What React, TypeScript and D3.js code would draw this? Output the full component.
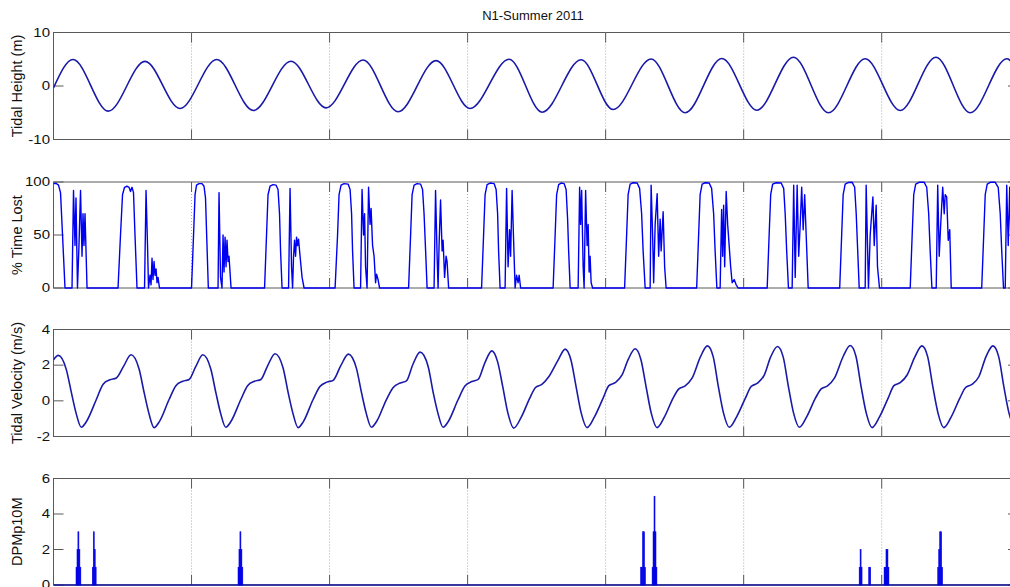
import React from "react";
import * as d3 from "d3";

const TITLE = "N1-Summer 2011";

// Time axis in hours since the start of the record; one grid line per day.
const timeSpan: [number, number] = [0, 167.7];
const dayTicks = [24, 48, 72, 96, 120, 144];

const heightTicks = [-10, 0, 10];
const lostTicks = [0, 50, 100];
const velocityTicks = [-2, 0, 2, 4];
const dpmTicks = [0, 2, 4, 6];

// Tidal height (m) at the turning points of the record
const tideHeight: [number, number][] = [
  [0, -0.35], [3.39, 4.95], [9.53, -4.7], [15.91, 4.6], [22.0, -4.2], [28.38, 4.95],
  [34.75, -4.58], [41.3, 4.64], [47.39, -4.08], [53.83, 4.85], [59.91, -4.8], [66.52, 4.75],
  [72.43, -4.2], [79.22, 5.0], [84.96, -4.9], [91.74, 4.9], [97.3, -4.4], [103.91, 5.05],
  [109.83, -5.0], [116.21, 5.14], [122.3, -4.52], [128.66, 5.38], [134.75, -5.0], [141.13, 5.08],
  [147.22, -4.58], [153.43, 5.38], [159.39, -5.0], [165.77, 5.08], [167.7, 2.8],
];

// Percentage of each interval lost to noise
const timeLost: [number, number][] = [
  [0, 98.5], [0.43, 98.8], [0.87, 97], [1.22, 90], [1.57, 50], [2.0, 0],
  [3.22, 0], [3.48, 92], [3.74, 40], [3.91, 85], [4.17, 0], [4.43, 40], [4.7, 92], [4.96, 30], [5.13, 70], [5.3, 40], [5.48, 70], [5.83, 0],
  [11.22, 0], [11.65, 50], [12.0, 88], [12.35, 95], [12.78, 96], [13.13, 95], [13.39, 91], [13.65, 95], [13.91, 90], [14.17, 50], [14.52, 0],
  [15.83, 0], [16.09, 92], [16.35, 40], [16.52, 0], [16.78, 12], [16.96, 3], [17.13, 28], [17.3, 8], [17.48, 25], [17.65, 12], [17.83, 18], [18.0, 5], [18.17, 10], [18.43, 0],
  [24.0, 0], [24.35, 50], [24.61, 88], [24.87, 97], [25.3, 98.5], [25.83, 98.5], [26.17, 96], [26.43, 85], [26.66, 45], [26.92, 0],
  [28.61, 0], [28.78, 90], [29.04, 10], [29.3, 0], [29.48, 50], [29.65, 15], [29.83, 48], [30.0, 20], [30.17, 45], [30.35, 25], [30.52, 30], [30.87, 0],
  [36.7, 0], [37.04, 50], [37.3, 88], [37.65, 96], [38.17, 97.5], [38.7, 97], [39.04, 93], [39.3, 70], [39.48, 35], [39.74, 0],
  [40.87, 0], [41.13, 94], [41.39, 20], [41.57, 0], [41.74, 30], [41.91, 45], [42.09, 30], [42.26, 48], [42.43, 40], [42.61, 46], [42.87, 30], [43.22, 10], [43.57, 0],
  [48.96, 0], [49.39, 50], [49.65, 88], [50.0, 97], [50.52, 98.5], [51.22, 98], [51.57, 93], [51.83, 70], [52.0, 35], [52.26, 0],
  [53.39, 0], [53.65, 93], [53.91, 50], [54.09, 70], [54.26, 20], [54.52, 0], [54.78, 95], [55.04, 60], [55.22, 75], [55.48, 40], [55.74, 30], [56.0, 5], [56.17, 13], [56.43, 8], [56.7, 0],
  [61.74, 0], [62.09, 50], [62.35, 88], [62.7, 97], [63.22, 98.5], [63.83, 98], [64.17, 93], [64.43, 70], [64.7, 35], [64.96, 0],
  [66.17, 0], [66.43, 92], [66.7, 30], [66.87, 0], [67.04, 40], [67.3, 83], [67.57, 35], [67.74, 45], [68.0, 10], [68.26, 30], [68.43, 25], [68.7, 0],
  [74.43, 0], [74.78, 50], [75.04, 88], [75.39, 97.5], [75.91, 99], [76.61, 98.5], [76.96, 93], [77.22, 70], [77.39, 35], [77.65, 0],
  [78.52, 0], [78.78, 94], [79.04, 20], [79.3, 55], [79.48, 30], [79.74, 92], [80.0, 45], [80.26, 0], [80.52, 12], [80.78, 5], [80.96, 12], [81.22, 0],
  [86.87, 0], [87.22, 50], [87.48, 88], [87.83, 97.5], [88.26, 99], [88.78, 98.5], [89.13, 93], [89.39, 65], [89.57, 35], [89.83, 0],
  [91.22, 0], [91.48, 95], [91.65, 60], [91.83, 92], [92.09, 20], [92.26, 0], [92.52, 92], [92.78, 40], [92.96, 60], [93.13, 15], [93.3, 30], [93.48, 5], [93.74, 0],
  [99.3, 0], [99.65, 50], [99.91, 88], [100.26, 98], [100.78, 99.3], [101.48, 99], [101.91, 94], [102.26, 70], [102.52, 35], [102.87, 0],
  [103.74, 0], [103.91, 97], [104.17, 50], [104.35, 5], [104.61, 60], [104.96, 89], [105.22, 30], [105.48, 65], [105.65, 35], [106.0, 72], [106.26, 20], [106.52, 0],
  [111.83, 0], [112.17, 50], [112.43, 88], [112.78, 98], [113.3, 99.3], [114.0, 99], [114.43, 94], [114.78, 70], [115.04, 35], [115.34, 0],
  [115.91, 0], [116.17, 74], [116.35, 30], [116.52, 78], [116.7, 20], [116.96, 91], [117.22, 60], [117.48, 40], [117.74, 20], [118.0, 5], [118.35, 8], [118.7, 3], [119.04, 0],
  [124.09, 0], [124.43, 50], [124.7, 88], [125.04, 98], [125.65, 99.3], [126.52, 99], [126.96, 94], [127.22, 70], [127.48, 35], [127.79, 0],
  [128.43, 0], [128.7, 97], [128.96, 10], [129.3, 97], [129.57, 30], [129.83, 60], [130.09, 95], [130.35, 55], [130.61, 88], [130.87, 50], [131.22, 0],
  [136.7, 0], [137.04, 50], [137.3, 88], [137.65, 98], [138.17, 99.5], [138.87, 99.7], [139.3, 95], [139.57, 70], [139.83, 35], [140.09, 0],
  [141.13, 0], [141.3, 97], [141.7, 0], [142.0, 50], [142.47, 86], [142.7, 40], [143.04, 78], [143.27, 20], [143.62, 0],
  [148.96, 0], [149.3, 50], [149.57, 88], [149.91, 98], [150.52, 99.7], [151.39, 99.7], [151.83, 95], [152.17, 70], [152.43, 35], [152.73, 0],
  [153.48, 0], [153.74, 97], [154.0, 30], [154.26, 60], [154.61, 95], [154.87, 70], [155.04, 88], [155.3, 86], [155.57, 45], [155.83, 55], [156.09, 0],
  [161.39, 0], [161.74, 50], [162.0, 88], [162.35, 98], [162.87, 99.7], [163.74, 99.7], [164.26, 95], [164.61, 70], [164.87, 35], [165.18, 0],
  [165.48, 0], [165.74, 97], [166.0, 40], [166.26, 95], [166.52, 30], [166.87, 0], [167.7, 0],
];

// Tidal velocity (m/s)
const tideVelocity: [number, number][] = [
  [0, 2.3], [0.83, 2.55], [2.23, 1.75], [3.13, 0.43], [3.93, -0.69], [4.83, -1.48], [5.73, -1.16], [7.43, 0.06], [8.63, 0.93], [9.83, 1.18], [10.93, 1.28], [12.18, 1.93],
  [13.48, 2.58], [14.88, 1.78], [15.78, 0.43], [16.58, -0.69], [17.48, -1.5], [18.38, -1.18], [20.08, 0.06], [21.28, 0.85], [22.48, 1.1], [23.58, 1.2], [24.75, 1.93],
  [25.95, 2.58], [27.35, 1.78], [28.25, 0.43], [29.05, -0.69], [29.95, -1.48], [30.85, -1.16], [32.55, 0.06], [33.75, 0.85], [34.95, 1.1], [36.05, 1.2], [37.25, 1.98],
  [38.52, 2.64], [39.92, 1.84], [40.82, 0.43], [41.62, -0.69], [42.52, -1.5], [43.42, -1.18], [45.12, 0.06], [46.32, 0.8], [47.52, 1.05], [48.62, 1.15], [49.95, 1.97],
  [51.27, 2.62], [52.67, 1.82], [53.57, 0.43], [54.37, -0.69], [55.27, -1.48], [56.17, -1.16], [57.87, 0.06], [59.07, 0.75], [60.27, 1.0], [61.37, 1.12], [62.5, 2.05],
  [63.74, 2.73], [65.14, 1.93], [66.04, 0.43], [66.84, -0.69], [67.74, -1.48], [68.64, -1.16], [70.34, 0.06], [71.54, 0.83], [72.74, 1.08], [73.84, 1.2], [75.0, 2.13],
  [76.21, 2.8], [77.21, 2.2], [78.11, 0.8], [79.01, -0.69], [80.01, -1.53], [81.31, -0.93], [82.81, 0.15], [83.81, 0.75], [84.91, 0.92], [86.11, 1.35], [87.76, 2.3],
  [88.96, 2.9], [89.96, 2.3], [90.86, 0.8], [91.76, -0.69], [92.76, -1.5], [94.06, -0.9], [95.56, 0.15], [96.56, 0.85], [97.66, 1.02], [98.86, 1.45], [99.93, 2.32],
  [101.13, 2.92], [102.13, 2.32], [103.03, 0.8], [103.93, -0.69], [104.93, -1.5], [106.23, -0.9], [107.73, 0.15], [108.73, 0.67], [109.83, 0.84], [111.03, 1.27], [112.5, 2.48],
  [113.7, 3.08], [114.7, 2.48], [115.6, 0.8], [116.5, -0.69], [117.5, -1.48], [118.8, -0.88], [120.3, 0.15], [121.3, 0.8], [122.4, 0.99], [123.6, 1.46], [124.68, 2.45],
  [125.88, 3.05], [126.88, 2.45], [127.78, 0.8], [128.68, -0.69], [129.68, -1.48], [130.98, -0.88], [132.48, 0.15], [133.48, 0.67], [134.58, 0.84], [135.78, 1.27], [137.32, 2.5],
  [138.52, 3.1], [139.52, 2.5], [140.42, 0.8], [141.32, -0.69], [142.32, -1.5], [143.62, -0.9], [145.12, 0.15], [146.12, 0.85], [147.22, 1.02], [148.42, 1.45], [149.79, 2.48],
  [150.99, 3.08], [151.99, 2.48], [152.89, 0.8], [153.79, -0.69], [154.79, -1.5], [156.09, -0.9], [157.59, 0.15], [158.59, 0.75], [159.69, 0.92], [160.89, 1.35], [162.14, 2.48],
  [163.34, 3.08], [164.34, 2.48], [165.24, 0.8], [166.14, -0.69], [167.14, -1.48], [167.7, -1.35],
];

// Detection positive minutes per 10-minute bin (non-zero bins only)
const dpmCounts: [number, number][] = [
  [4.0, 1], [4.17, 2], [4.33, 3], [4.5, 2], [4.67, 1],
  [6.83, 1], [7.0, 3], [7.17, 2], [7.33, 1],
  [32.17, 1], [32.33, 2], [32.5, 3], [32.67, 2], [32.83, 1],
  [102.17, 1], [102.33, 1], [102.5, 3], [102.67, 3], [102.83, 1],
  [104.17, 1], [104.33, 3], [104.5, 5], [104.67, 3], [104.83, 1],
  [140.17, 1], [140.33, 2], [140.5, 1],
  [141.83, 1], [142.0, 1],
  [144.5, 1], [144.67, 1], [144.83, 2], [145.0, 2], [145.17, 1],
  [153.83, 1], [154.0, 2], [154.17, 3], [154.33, 3], [154.5, 1],
];
const BIN_HOURS = 1 / 6;

const X0 = 53.5;
const X1 = 1018;
const TICK = 10;
const FONT = "'Liberation Sans', Arial, Helvetica, sans-serif";
const AXIS = "#5a5a5a";
const INK = "#111";

type Panel = {
  id: string;
  top: number;
  bottom: number;
  domain: [number, number];
  ticks: number[];
  label: string;
};

const panels: Panel[] = [
  { id: "height", top: 32.5, bottom: 139.5, domain: [-10, 10], ticks: heightTicks, label: "Tidal Height (m)" },
  { id: "lost", top: 182, bottom: 288, domain: [0, 100], ticks: lostTicks, label: "% Time Lost" },
  { id: "vel", top: 329.5, bottom: 436.5, domain: [-2, 4], ticks: velocityTicks, label: "Tidal Velocity (m/s)" },
  { id: "dpm", top: 478.5, bottom: 585, domain: [0, 6], ticks: dpmTicks, label: "DPMp10M" },
];

export default function App() {
  const x = d3.scaleLinear().domain(timeSpan).range([X0, X1]);
  const ys = panels.map((p) => d3.scaleLinear().domain(p.domain).range([p.bottom, p.top]));

  const heightPath = d3
    .line<[number, number]>()
    .x((d) => x(d[0]))
    .y((d) => ys[0](d[1]))
    .curve(d3.curveMonotoneX)(tideHeight);
  const lostPath = d3
    .line<[number, number]>()
    .x((d) => x(d[0]))
    .y((d) => ys[1](d[1]))(timeLost);
  const velPath = d3
    .line<[number, number]>()
    .x((d) => x(d[0]))
    .y((d) => ys[2](d[1]))
    .curve(d3.curveMonotoneX)(tideVelocity);
  const dpmBase = d3
    .line<[number, number]>()
    .x((d) => x(d[0]))
    .y((d) => ys[3](d[1]))([
    [timeSpan[0], 0],
    [timeSpan[1], 0],
  ]);
  const binW = x(BIN_HOURS) - x(0);

  const series: React.ReactNode[] = [
    <path key="h" d={heightPath ?? ""} fill="none" stroke="#1a1aa8" strokeWidth={1.6} />,
    <path key="l" d={lostPath ?? ""} fill="none" stroke="#0000f0" strokeWidth={1.4} strokeLinejoin="round" />,
    <path key="v" d={velPath ?? ""} fill="none" stroke="#1a1aa8" strokeWidth={1.6} />,
    <g key="d">
      <path d={dpmBase ?? ""} fill="none" stroke="#10109a" strokeWidth={1.5} />
      {dpmCounts.map(([t, v], i) => (
        <rect
          key={i}
          x={x(t) - binW / 2}
          y={ys[3](v)}
          width={binW}
          height={ys[3](0) - ys[3](v)}
          fill="#0000e6"
          stroke="#0000e6"
          strokeWidth={0.6}
        />
      ))}
    </g>,
  ];

  return (
    <svg
      width={1010}
      height={587}
      viewBox="0 0 1010 587"
      style={{ position: "absolute", left: 0, top: 0, background: "#fff" }}
      fontFamily={FONT}
    >
      <rect x={0} y={0} width={1010} height={587} fill="#fff" />
      <defs>
        {panels.map((p) => (
          <clipPath key={p.id} id={`clip-${p.id}`}>
            <rect x={X0} y={p.top - 2} width={X1 - X0} height={p.bottom - p.top + 4} />
          </clipPath>
        ))}
      </defs>
      <text x={533} y={20} textAnchor="middle" fontSize={13} fill={INK}>
        {TITLE}
      </text>
      {panels.map((p, i) => {
        const y = ys[i];
        const mid = (p.top + p.bottom) / 2;
        return (
          <g key={p.id}>
            <rect x={X0} y={p.top} width={X1 - X0} height={p.bottom - p.top} fill="#fff" stroke={AXIS} strokeWidth={1} />
            {dayTicks.map((t) => (
              <g key={t}>
                <line x1={x(t)} x2={x(t)} y1={p.top} y2={p.bottom} stroke="#a8a8a8" strokeWidth={1} strokeDasharray="1 2" />
                <line x1={x(t)} x2={x(t)} y1={p.top} y2={p.top + TICK} stroke={AXIS} strokeWidth={1} />
                <line x1={x(t)} x2={x(t)} y1={p.bottom - TICK} y2={p.bottom} stroke={AXIS} strokeWidth={1} />
              </g>
            ))}
            {p.ticks.map((v) => (
              <g key={v}>
                <line x1={X0} x2={X0 + TICK} y1={y(v)} y2={y(v)} stroke={AXIS} strokeWidth={1} />
                <line x1={X1 - TICK} x2={X1} y1={y(v)} y2={y(v)} stroke={AXIS} strokeWidth={1} />
                <g transform={`translate(50, ${y(v)}) scale(1.25, 1)`}>
                  <text x={0} y={0} dy="0.36em" textAnchor="end" fontSize={12} fill={INK}>
                    {v}
                  </text>
                </g>
              </g>
            ))}
            <text
              transform={`translate(21.5, ${mid}) rotate(-90)`}
              textAnchor="middle"
              fontSize={14.5}
              fill={INK}
            >
              {p.label}
            </text>
            <g clipPath={`url(#clip-${p.id})`}>{series[i]}</g>
          </g>
        );
      })}
    </svg>
  );
}
